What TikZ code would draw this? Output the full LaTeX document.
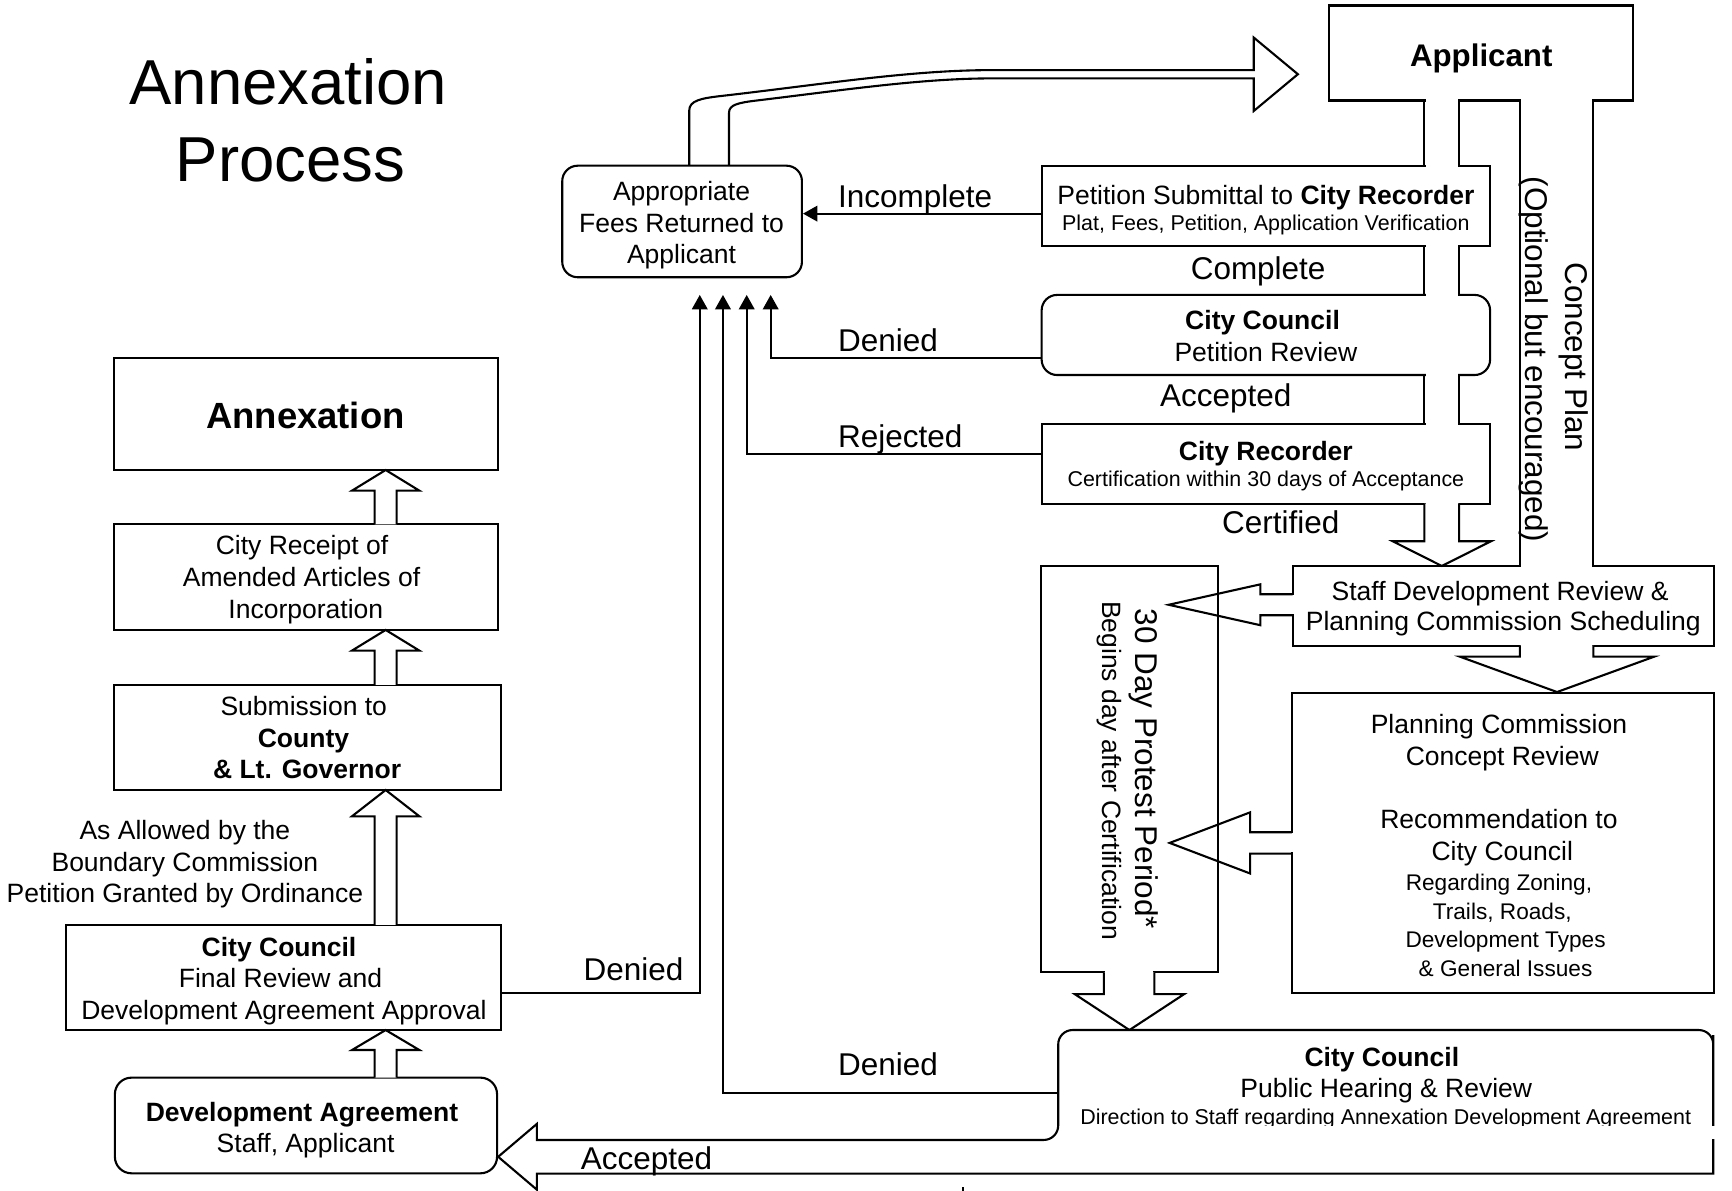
\documentclass[tikz,border=0pt]{standalone}
\usepackage{fontspec}
\setmainfont{Liberation Sans}
\usetikzlibrary{arrows.meta,calc}
\newcommand\fsz[1]{\fontsize{#1}{#1}\selectfont}
\begin{document}
\begin{tikzpicture}[x=1pt,y=-1pt,line width=1.9pt,line join=miter,
  bx/.style={draw,fill=white,line width=1.9pt,inner sep=0pt},
  rbx/.style={bx,rounded corners=14pt},
  blk/.style={draw,fill=white,line width=1.9pt},
  hol/.style={draw,line width=1.9pt},
  wipe/.style={fill=white,draw=none},
  txt/.style={inner sep=0pt,anchor=base},
  t24/.style={txt,font={\fsz{24}}},
  b24/.style={txt,font={\fsz{24}\bfseries}},
  t19/.style={txt,font={\fsz{19.4}}},
  t20/.style={txt,font={\fsz{20.5}}},
  lab/.style={txt,font={\fsz{28.5}}},
  conn/.style={-{Triangle[length=13pt,width=14pt]},line width=1.9pt},
]
\useasboundingbox (0,0) rectangle (1568,1078);
\fill[white] (0,0) rectangle (1568,1078);

% title
\node[txt,font={\fsz{57.5}}] (t1) at (261,95) {Annexation};
\node[txt,font={\fsz{57.5}}] (t2) at (263,164.5) {Process};

% curved block arrow fees -> applicant
\draw[hol] (624,150) -- (624,100) .. controls (624,91) and (635,89) .. (652,87)
  .. controls (740,77) and (820,64) .. (893,63.5) -- (1135,63.5) -- (1135,34)
  -- (1175,67.2) -- (1135,100.5) -- (1135,71) -- (893,71)
  .. controls (830,71.5) and (760,82) .. (685,91)
  .. controls (668,93) and (660,95) .. (660,102) -- (660,150);

% boxes
\node[bx,minimum width=275pt,minimum height=86pt] (applicant) at (1340.5,48) {};
\node[rbx,minimum width=217pt,minimum height=101pt] (fees) at (617.5,200.5) {};
\node[bx,minimum width=406pt,minimum height=72pt] (petition) at (1146,186.5) {};
\node[rbx,minimum width=406pt,minimum height=72.5pt] (cc1) at (1146,303.25) {};
\node[bx,minimum width=406pt,minimum height=72pt] (recorder) at (1146,420) {};
\node[bx,minimum width=381.4pt,minimum height=72.1pt] (staff) at (1361,548.45) {};
\node[bx,minimum width=160.1pt,minimum height=368.2pt] (thirty) at (1022.65,696.1) {};
\node[bx,minimum width=382.2pt,minimum height=272.3pt] (pc) at (1360.6,763.15) {};
\node[bx,minimum width=347.8pt,minimum height=101.7pt] (annex) at (276.9,374.65) {};
\node[bx,minimum width=347.8pt,minimum height=95.6pt] (receipt) at (276.9,522.5) {};
\node[bx,minimum width=350.9pt,minimum height=95.1pt] (subm) at (278.45,667.65) {};
\node[bx,minimum width=393.9pt,minimum height=95.1pt] (final) at (256.75,884.95) {};
\node[bx,rounded corners=15pt,minimum width=346pt,minimum height=86.6pt] (devagr) at (277,1018.9) {};

% openings in box edges for the block-arrow channels
\foreach \yy in {91,150.5,222.5,267,339.5,384,456}
  \fill[wipe] (1290.6,\yy-2.2) rectangle (1319.9,\yy+2.2);
\foreach \yy in {91,512.4,584.5}
  \fill[wipe] (1377.1,\yy-2.2) rectangle (1441.4,\yy+2.2);
\fill[wipe] (1167.5,539.1) rectangle (1173,555.9);
\fill[wipe] (1166.5,754.5) rectangle (1172,771.7);
\fill[wipe] (1000.4,877.5) rectangle (1044,883);

% main channel: applicant -> staff
\draw[hol] (1289.5,91) -- (1289.5,150.5) (1321,91) -- (1321,150.5);
\draw[hol] (1289.5,222.5) -- (1289.5,267) (1321,222.5) -- (1321,267);
\draw[hol] (1289.5,339.5) -- (1289.5,384) (1321,339.5) -- (1321,384);
\draw[blk] (1289.5,456) -- (1289.5,490) -- (1260.8,490) -- (1305.3,512.4)
  -- (1349.8,490) -- (1321,490) -- (1321,456);

% concept plan channel: applicant -> staff -> planning commission
\draw[hol] (1376,91) -- (1376,512.4) (1442.5,91) -- (1442.5,512.4);
\draw[blk] (1376,584.5) -- (1376,594.5) -- (1321.7,594.5) -- (1409.6,626.5)
  -- (1497.5,594.5) -- (1442.5,594.5) -- (1442.5,584.5);

% arrows into 30 day period
\draw[hol] (1170.3,538) -- (1141,538) -- (1141,529) -- (1058,547.5)
  -- (1141,566) -- (1141,557) -- (1170.3,557);
\draw[hol] (1169.5,753.4) -- (1131.8,753.4) -- (1131.8,735.4) -- (1058.9,763.1)
  -- (1131.8,790.8) -- (1131.8,772.8) -- (1169.5,772.8);
\draw[blk] (999.3,880.2) -- (999.3,900) -- (973,900) -- (1022.5,932.5)
  -- (1072,900) -- (1045.1,900) -- (1045.1,880.2);

% left column up arrows
\draw[blk] (339.2,474.7) -- (339.2,444.2) -- (318.65,444.2) -- (349.15,425.5)
  -- (379.65,444.2) -- (359.1,444.2) -- (359.1,474.7);
\draw[blk] (339.2,620.1) -- (339.2,589) -- (318.65,589) -- (349.15,570.3)
  -- (379.65,589) -- (359.1,589) -- (359.1,620.1);
\draw[blk] (339.2,837.4) -- (339.2,739) -- (318.65,739) -- (349.15,715.2)
  -- (379.65,739) -- (359.1,739) -- (359.1,837.4);
\draw[blk] (339.2,975.6) -- (339.2,950.6) -- (318.65,950.6) -- (349.15,932.5)
  -- (379.65,950.6) -- (359.1,950.6) -- (359.1,975.6);

% city council public hearing box merged with the Accepted block arrow
\draw[blk] (486,1017.5) -- (486,1032) -- (940,1032) [rounded corners=13pt]
  -- (958,1032) -- (958,932.5) -- (1551,932.5) -- (1551,950) [sharp corners]
  -- (1551,1062.5) -- (486,1062.5) -- (486,1077) -- (451,1047.25) -- cycle;
\coordinate (cc2w) at (958,989.8);

% connectors to fees returned
\coordinate (d1) at (697.7,267);
\coordinate (d2) at (676,267);
\coordinate (d3) at (633.5,267);
\coordinate (d4) at (654.5,267);
\draw[conn] ($(petition.west)+(0,6.9)$) -- ($(fees.east)+(0,-7.1)$);
\draw[conn] ($(cc1.west)+(0,20.5)$) -| (d1);
\draw[conn] ($(recorder.west)+(0,-9.3)$) -| (d2);
\draw[conn] ($(final.east)+(0,13.75)$) -| (d3);
\draw[conn] (cc2w) -| (d4);

% texts
\node[txt,font={\fsz{28.3}\bfseries}] (applicant-t) at (1341,60.5) {Applicant};
\node[t24] (fees-t1) at (617,181.3) {Appropriate};
\node[t24] (fees-t2) at (617,210.2) {Fees Returned to};
\node[t24] (fees-t3) at (617,239) {Applicant};
\node[lab] (l-inc) at (828.5,187.7) {Incomplete};
\node[t24] (pet-t1) at (1146,185) {Petition Submittal to \textbf{City Recorder}};
\node[t19] (pet-t2) at (1146,208.5) {Plat, Fees, Petition, Application Verification};
\node[lab] (l-comp) at (1139,253.4) {Complete};
\node[b24] (cc1-t1) at (1143,298) {City Council};
\node[t24] (cc1-t2) at (1146,327) {Petition Review};
\node[lab] (l-acc1) at (1109.6,367.6) {Accepted};
\node[b24] (rec-t1) at (1146,416.5) {City Recorder};
\node[t19] (rec-t2) at (1146,440.8) {Certification within 30 days of Acceptance};
\node[lab] (l-cert) at (1159.5,483) {Certified};
\node[lab] (l-den1) at (804,317.8) {Denied};
\node[lab] (l-rej) at (815,404.8) {Rejected};
\node[txt,font={\fsz{28.5}},rotate=-90] (l-cp) at (1417,323) {Concept Plan};
\node[txt,font={\fsz{28.5}},rotate=-90] (l-opt) at (1381,325.5) {(Optional but encouraged)};
\node[t24] (staff-t1) at (1358,543.5) {Staff Development Review \&};
\node[t24] (staff-t2) at (1361,570.5) {Planning Commission Scheduling};
\node[txt,font={\fsz{28.5}},rotate=-90] (thirty-t1) at (1027.6,696) {30 Day Protest Period*};
\node[txt,font={\fsz{24}},rotate=-90] (thirty-t2) at (998.4,697.6) {Begins day after Certification};
\node[t24] (pc-t1) at (1357,664) {Planning Commission};
\node[t24] (pc-t2) at (1360,693) {Concept Review};
\node[t24] (pc-t3) at (1357,750) {Recommendation to};
\node[t24] (pc-t4) at (1360,779) {City Council};
\node[t20] (pc-t5) at (1357,806) {Regarding Zoning,};
\node[t20] (pc-t6) at (1360,832) {Trails, Roads,};
\node[t20] (pc-t7) at (1363,858) {Development Types};
\node[t20] (pc-t8) at (1363,884) {\& General Issues};
\node[b24] (cc2-t1) at (1251,965.5) {City Council};
\node[t24] (cc2-t2) at (1255,994) {Public Hearing \& Review};
\node[t19] (cc2-t3) at (1254.5,1018.3) {Direction to Staff regarding Annexation Development Agreement};
\fill[white] (972,1019.6) rectangle (1553,1030.8);
\node[lab] (l-den4) at (804,974) {Denied};
\node[lab] (l-acc2) at (585.3,1058.5) {Accepted};
\node[lab] (l-den3) at (573.5,887.5) {Denied};
\node[txt,font={\fsz{33}\bfseries}] (annex-t) at (276.5,388) {Annexation};
\node[t24] (rec2-t1) at (273.4,502) {City Receipt of};
\node[t24] (rec2-t2) at (273,531) {Amended Articles of};
\node[t24] (rec2-t3) at (276.9,560) {Incorporation};
\node[t24] (sub-t1) at (275,647.5) {Submission to};
\node[b24] (sub-t2) at (274.7,676.3) {County};
\node[b24] (sub-t3) at (278,704.7) {\& Lt. Governor};
\node[t24] (as-t1) at (167.4,760) {As Allowed by the};
\node[t24] (as-t2) at (167.4,788.6) {Boundary Commission};
\node[t24] (as-t3) at (167.4,817.3) {Petition Granted by Ordinance};
\node[b24] (fin-t1) at (252.6,865.6) {City Council};
\node[t24] (fin-t2) at (254,894.3) {Final Review and};
\node[t24] (fin-t3) at (257,923) {Development Agreement Approval};
\node[b24] (dev-t1) at (273.4,1015) {Development Agreement};
\node[t24] (dev-t2) at (276.7,1043.6) {Staff, Applicant};
\fill (871,1075) rectangle (873,1078);
\end{tikzpicture}
\end{document}
